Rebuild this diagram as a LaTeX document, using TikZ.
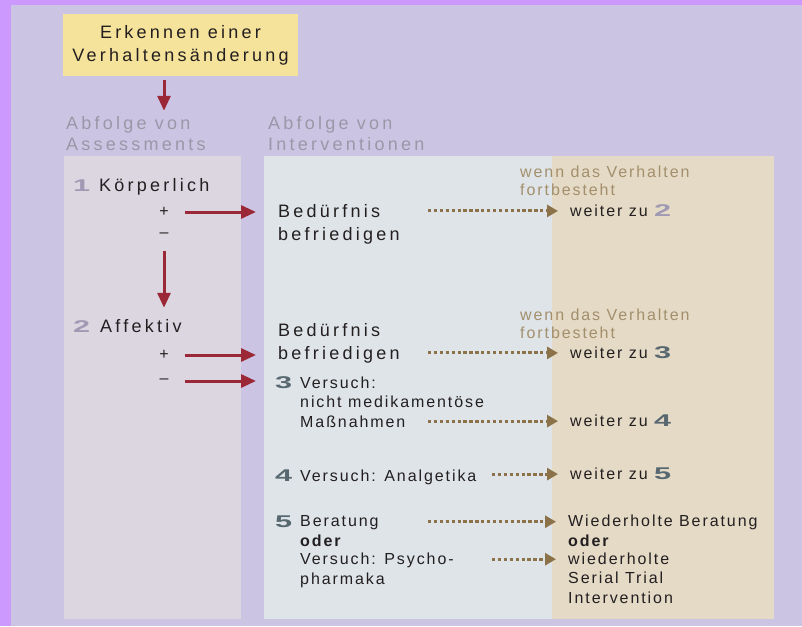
\documentclass[tikz,border=0pt]{standalone}
\usepackage{fontspec}
\setmainfont{Liberation Sans}
\newfontfamily\bigfont{Liberation Sans}[LetterSpace=18]
\newfontfamily\smallfont{Liberation Sans}[LetterSpace=12]
\newfontfamily\numfont{Liberation Sans}
\usepackage{graphicx}
\usetikzlibrary{arrows.meta, positioning, calc}
\definecolor{frame}{RGB}{204,153,255}
\definecolor{lavender}{RGB}{203,197,227}
\definecolor{assesscol}{RGB}{220,214,225}
\definecolor{intercol}{RGB}{222,228,232}
\definecolor{tancol}{RGB}{229,218,198}
\definecolor{sand}{RGB}{245,227,155}
\definecolor{wine}{RGB}{155,40,55}
\definecolor{umber}{RGB}{140,114,72}
\definecolor{umbertext}{RGB}{163,143,108}
\definecolor{headgray}{RGB}{156,150,168}
\definecolor{numlav}{RGB}{160,153,180}
\definecolor{numslate}{RGB}{88,104,112}
\definecolor{ink}{RGB}{35,31,32}
\newcommand{\stepnum}[2]{\textcolor{#1}{\numfont\bfseries\fontsize{17}{17}\selectfont\scalebox{1.8}[1]{#2}}}

\begin{document}
\begin{tikzpicture}[x=1pt, y=-1pt,
  big/.style={inner sep=0pt, anchor=base west, align=left, text=ink, font=\bigfont\fontsize{18}{23}\selectfont},
  small/.style={inner sep=0pt, anchor=base west, align=left, text=ink, font=\smallfont\fontsize{16}{19.5}\selectfont},
  redarrow/.style={wine, line width=3pt, -{Triangle[length=15pt, width=13pt]}},
  dotarrow/.style={umber, line width=3pt, dash pattern=on 3.3pt off 2.6pt, -{Triangle[length=11pt, width=12pt]}}]
  \useasboundingbox (0,0) rectangle (802,626);

  % Background
  \fill[frame] (0,0) rectangle (802,626);
  \fill[lavender] (11,5) rectangle (802,626);
  \fill[assesscol] (64,156) rectangle (241,619);
  \fill[intercol] (264,156) rectangle (552,619);
  \fill[tancol] (552,156) rectangle (774,619);

  % Start (multi-line nodes sit on their last baseline)
  \node[fill=sand, minimum width=235pt, minimum height=62pt, inner sep=0pt, align=center, text=ink, font=\bigfont\fontsize{18}{23}\selectfont] (erk) at (180.5,45) {Erkennen einer\\Verhaltensänderung};

  % Column heads
  \node[big, text=headgray, font=\bigfont\fontsize{18}{21}\selectfont] (assess) at (66,150) {Abfolge von\\Assessments};
  \node[big, text=headgray, font=\bigfont\fontsize{18}{21}\selectfont] (interv) at (268,150) {Abfolge von\\Interventionen};

  % Assessments
  \node[big] (n1) at (73,191) {\stepnum{numlav}{1}};
  \node[big] (koerper) at (99,191) {Körperlich};
  \node[small, anchor=center] (plus1) at (164,212) {+};
  \node[small, anchor=center] (minus1) at (164,235) {\textendash};
  \node[big] (n2) at (73,332) {\stepnum{numlav}{2}};
  \node[big] (affekt) at (100,332) {Affektiv};
  \node[small, anchor=center] (plus2) at (164,355) {+};
  \node[small, anchor=center] (minus2) at (164,381) {\textendash};

  % Interventions
  \node[big] (bed1) at (278,240) {Bedürfnis\\befriedigen};
  \node[big] (bed2) at (278,359) {Bedürfnis\\befriedigen};
  \node[small] (n3) at (275,388) {\stepnum{numslate}{3}};
  \node[small] (v3) at (300,407.5) {Versuch:\\nicht medikamentöse};
  \node[small] (v3b) at (300,427) {Maßnahmen};
  \node[small] (n4) at (275,481) {\stepnum{numslate}{4}};
  \node[small] (v4) at (300,481) {Versuch: Analgetika};
  \node[small] (n5) at (275,527) {\stepnum{numslate}{5}};
  \node[small] (v5) at (300,546) {Beratung\\\textbf{oder}};
  \node[small] (v6) at (300,584) {Versuch: Psycho-\\pharmaka};

  % Outcomes
  \node[small, text=umbertext, font=\smallfont\fontsize{16}{18}\selectfont] (wenn1) at (520,195) {wenn das Verhalten\\fortbesteht};
  \node[small, text=umbertext, font=\smallfont\fontsize{16}{18}\selectfont] (wenn2) at (520,338) {wenn das Verhalten\\fortbesteht};
  \node[small] (w1) at (570,216) {weiter zu \stepnum{numlav}{2}};
  \node[small] (w2) at (570,358) {weiter zu \stepnum{numslate}{3}};
  \node[small] (w3) at (570,426) {weiter zu \stepnum{numslate}{4}};
  \node[small] (w4) at (570,479) {weiter zu \stepnum{numslate}{5}};
  \node[small] (w5) at (568,546) {Wiederholte Beratung\\\textbf{oder}};
  \node[small] (w6) at (568,603) {wiederholte\\Serial Trial\\Intervention};

  % Red arrows
  \draw[redarrow, shorten <=4pt, shorten >=5pt] (erk.south -| plus1) -- (plus1 |- assess.north);
  \draw[redarrow, shorten <=16pt, shorten >=22pt] (plus1) -- (plus1 -| bed1.west);
  \draw[redarrow, shorten <=13pt, shorten >=11pt] (minus1) -- (minus1 |- affekt.north);
  \draw[redarrow, shorten <=16pt, shorten >=22pt] (plus2) -- (plus2 -| bed2.west);
  \draw[redarrow, shorten <=16pt, shorten >=22pt] (minus2) -- (minus2 -| bed2.west);

  % Dotted arrows
  \coordinate (colA) at (428,0);
  \coordinate (colB) at (492,0);
  \foreach \t/\c in {w1/colA, w2/colA, w3/colA, w4/colB, w5/colA, w6/colB}
    \draw[dotarrow] ($(\c |- \t.north west)+(0,7)$) -- ($(\t.north west)+(-12,7)$);
\end{tikzpicture}
\end{document}
